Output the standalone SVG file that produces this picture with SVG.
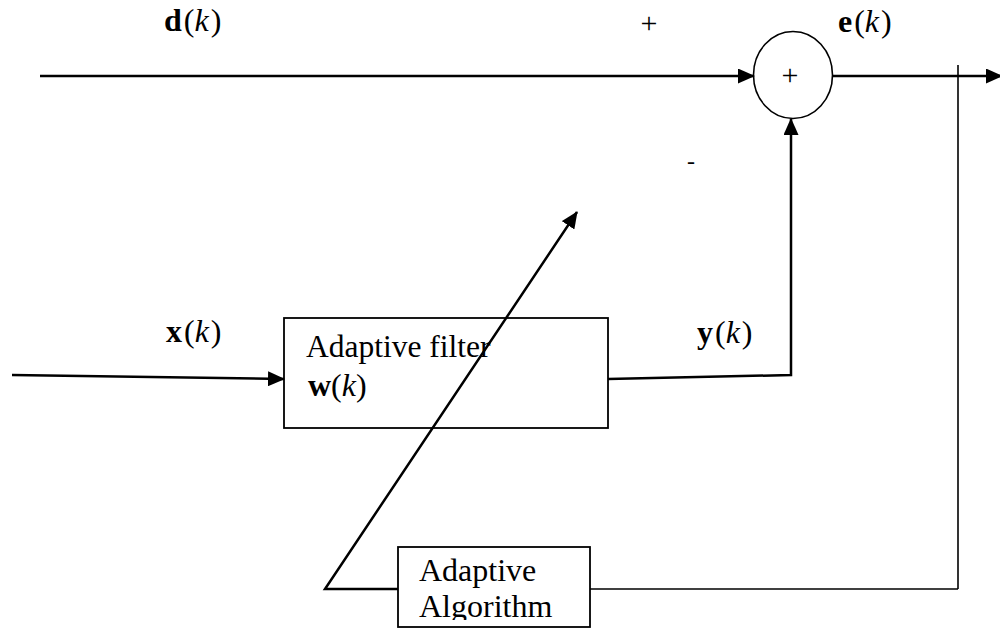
<svg xmlns="http://www.w3.org/2000/svg" width="1000" height="631" viewBox="0 0 1000 631">
  <style>
    .ln { stroke: #000; stroke-width: 2.5; fill: none; }
    .thin { stroke: #000; stroke-width: 1.6; fill: none; }
    .box { stroke: #000; stroke-width: 1.8; }
    .t { font-family: "Liberation Serif", "Times New Roman", serif; fill: #000; }
    .lbl { font-size: 32px; }
    .b { font-weight: bold; }
    .i { font-style: italic; }
    .sign { font-size: 30px; }
  </style>
  <defs>
    <marker id="arr" markerWidth="17" markerHeight="15" refX="16" refY="7.5" orient="auto" markerUnits="userSpaceOnUse">
      <path d="M0,0 L17,7.5 L0,15 Z" fill="#000"/>
    </marker>
    <clipPath id="algclip">
      <rect x="398" y="547" width="192" height="73"/>
    </clipPath>
  </defs>

  <g id="sum">
    <ellipse class="thin" cx="793" cy="75" rx="39.5" ry="43.5" fill="#fff"/>
    <text class="t sign" x="790" y="85" text-anchor="middle">+</text>
  </g>

  <g id="filter">
    <rect class="box" x="284" y="318" width="324" height="110" fill="none"/>
    <text class="t" x="306" y="357" font-size="31.5">Adaptive filter</text>
    <text class="t lbl" x="308" y="396"><tspan class="b">w</tspan>(<tspan class="i">k</tspan>)</text>
  </g>

  <g id="algorithm">
    <rect class="box" x="398" y="547" width="192" height="80" fill="#fff"/>
    <g clip-path="url(#algclip)">
      <text class="t" x="419" y="581" font-size="32">Adaptive</text>
      <text class="t" x="419" y="617" font-size="32">Algorithm</text>
    </g>
  </g>

  <g id="connectors">
    <!-- desired signal into summing junction -->
    <line class="ln" x1="40" y1="76" x2="754" y2="76" marker-end="url(#arr)"/>
    <!-- error output -->
    <line class="ln" x1="833" y1="76" x2="1002" y2="76" marker-end="url(#arr)"/>
    <!-- error feedback path -->
    <line class="thin" x1="958" y1="65" x2="958" y2="589"/>
    <line class="thin" x1="958" y1="589" x2="590" y2="589"/>
    <!-- input signal into filter -->
    <line class="ln" x1="12" y1="375" x2="284" y2="379" marker-end="url(#arr)"/>
    <!-- filter output up to summing junction -->
    <polyline class="ln" points="608,379 791,375 791,119" marker-end="url(#arr)"/>
    <!-- adaptation arrow through the filter -->
    <polyline class="ln" points="398,589 325,589 577,212" marker-end="url(#arr)"/>
  </g>

  <g id="labels">
    <text class="t lbl" x="164" y="31"><tspan class="b">d</tspan><tspan dx="2">(</tspan><tspan class="i">k</tspan><tspan dx="2">)</tspan></text>
    <text class="t lbl" x="838" y="32"><tspan class="b">e</tspan><tspan dx="2">(</tspan><tspan class="i">k</tspan><tspan dx="2">)</tspan></text>
    <text class="t lbl" x="166" y="342"><tspan class="b">x</tspan><tspan dx="2">(</tspan><tspan class="i">k</tspan><tspan dx="2">)</tspan></text>
    <text class="t lbl" x="697" y="343"><tspan class="b">y</tspan><tspan dx="2">(</tspan><tspan class="i">k</tspan><tspan dx="2">)</tspan></text>
    <text class="t sign" x="649" y="33" text-anchor="middle">+</text>
    <text class="t" x="691" y="169" font-size="24" text-anchor="middle">-</text>
  </g>
</svg>
